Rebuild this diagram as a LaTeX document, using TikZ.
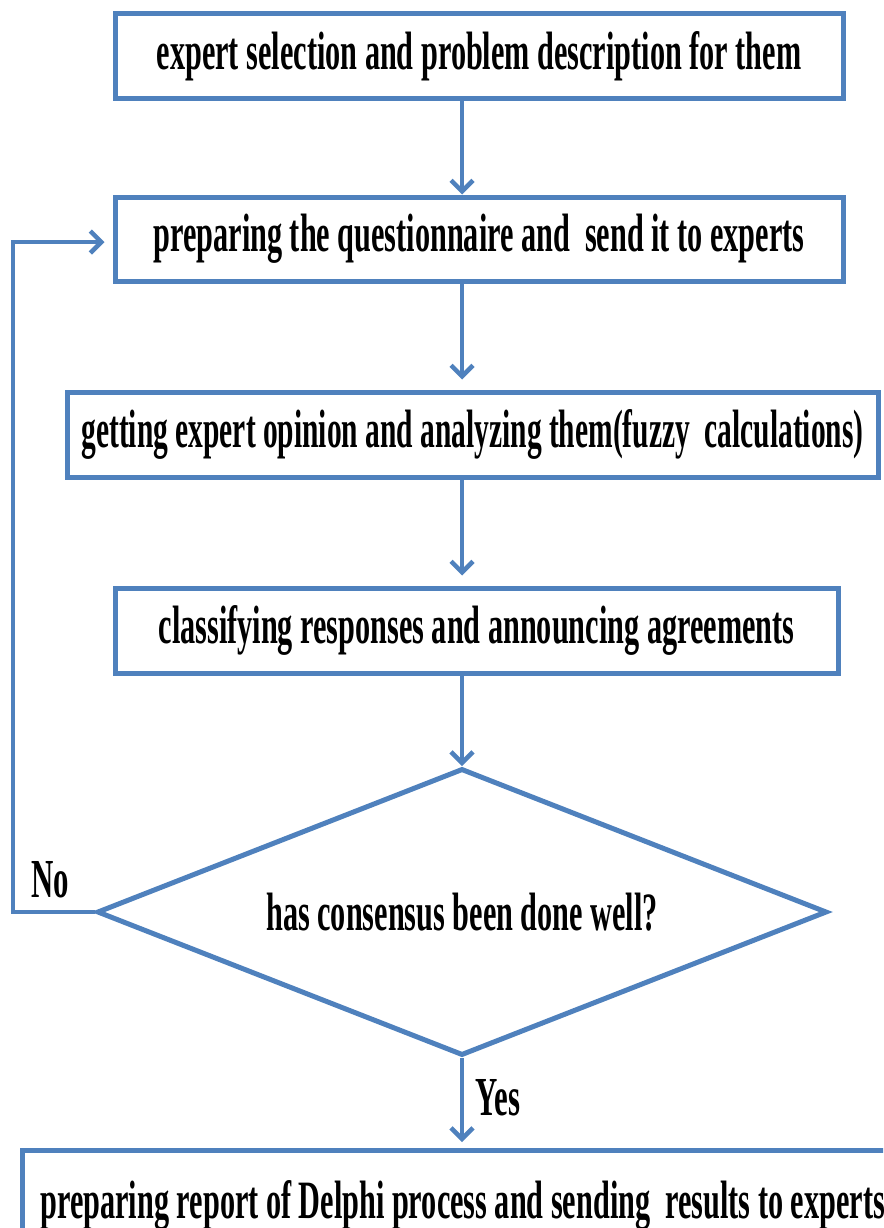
\documentclass[tikz,border=0pt]{standalone}
\usepackage{graphicx}
\usepackage{fontspec}
\setmainfont{Liberation Serif}[FakeStretch=0.56]
\usetikzlibrary{arrows.meta,shapes.geometric}
\definecolor{lineblue}{RGB}{79,129,189}
\begin{document}
\begin{tikzpicture}[x=1pt,y=-1pt,
  box/.style={draw=lineblue,line width=5pt,rectangle,inner sep=0pt,
    font=\fontsize{54}{60}\selectfont\bfseries,text=black},
  flow/.style={draw=lineblue,line width=4pt,-{Straight Barb[length=11pt,width=22pt,line width=4.5pt]}},
  lbl/.style={font=\fontsize{55}{60}\selectfont\bfseries,text=black,inner sep=0pt}]
\clip (0,0) rectangle (883,1228);
\node[box,minimum width=728,minimum height=85] (b1) at (479,56) {expert selection and problem description for them};
\node[box,minimum width=728,minimum height=84] (b2) at (479,239) {preparing the questionnaire and\ \ send it to experts};
\node[box,minimum width=811,minimum height=85] (b3) at (472.5,434.5) {\scalebox{0.975}[1]{getting expert opinion and analyzing them(fuzzy\ \ calculations)}};
\node[box,minimum width=723,minimum height=85] (b4) at (476.5,630.5) {classifying responses and announcing agreements};
\node[box,diamond,aspect=2.54,minimum width=730,minimum height=287] (d) at (462,912) {has consensus been done well?};
\node[box,anchor=north west,minimum width=950,minimum height=110] (b5) at (20,1148) {\makebox[930pt][l]{\hspace*{8pt}preparing report of Delphi process and sending\ \ results to experts}};
\coordinate (c1) at (13,912);
\coordinate (c2) at (13,242);
\draw[flow] (b1.south-|d.north) -- (b2.north-|d.north);
\draw[flow,shorten >=10pt] (b2.south-|d.north) -- (b3.north-|d.north);
\draw[flow,shorten >=10pt] (b3.south-|d.north) -- (b4.north-|d.north);
\draw[flow] (b4.south-|d.north) -- (d.north);
\draw[flow] (d.west) -- (c1) -- (c2) -- ([xshift=-8pt]b2.west|-c2);
\draw[flow,shorten >=6pt] (d.south) -- (b5.north-|d.south);
\node[lbl] (no) at (50,880) {No};
\node[lbl] (yes) at (498,1098) {Yes};
\end{tikzpicture}
\end{document}
